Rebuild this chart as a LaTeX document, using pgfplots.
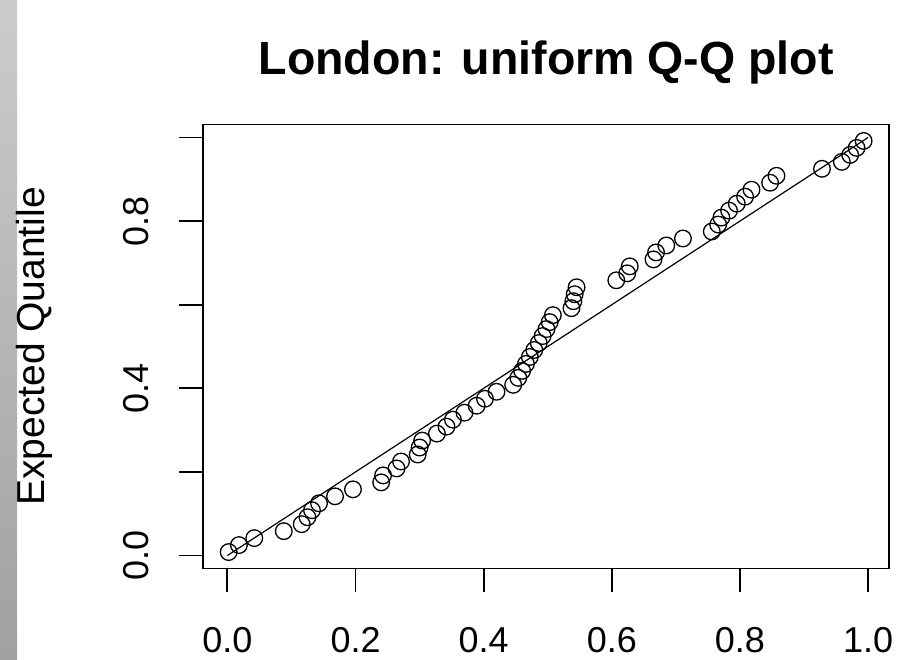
\documentclass[border=0pt]{standalone}
\usepackage{fontspec}
\setmainfont{Liberation Sans}
\usepackage{pgfplots}
\pgfplotsset{compat=1.18}
\pgfplotstableread{
x y
0.002 0.00833
0.018 0.02500
0.042 0.04167
0.088 0.05833
0.116 0.07500
0.125 0.09167
0.132 0.10833
0.143 0.12500
0.168 0.14167
0.196 0.15833
0.240 0.17500
0.243 0.19167
0.264 0.20833
0.271 0.22500
0.297 0.24167
0.300 0.25833
0.304 0.27500
0.327 0.29167
0.342 0.30833
0.352 0.32500
0.370 0.34167
0.389 0.35833
0.402 0.37500
0.420 0.39167
0.446 0.40833
0.454 0.42500
0.460 0.44167
0.466 0.45833
0.472 0.47500
0.479 0.49167
0.486 0.50833
0.492 0.52500
0.498 0.54167
0.503 0.55833
0.508 0.57500
0.537 0.59167
0.540 0.60833
0.542 0.62500
0.545 0.64167
0.607 0.65833
0.624 0.67500
0.628 0.69167
0.665 0.70833
0.669 0.72500
0.685 0.74167
0.711 0.75833
0.756 0.77500
0.766 0.79167
0.771 0.80833
0.783 0.82500
0.795 0.84167
0.808 0.85833
0.818 0.87500
0.847 0.89167
0.857 0.90833
0.928 0.92500
0.959 0.94167
0.972 0.95833
0.982 0.97500
0.993 0.99167
}\qqdata
\begin{document}
\begin{tikzpicture}[x=1pt,y=1pt]
\useasboundingbox (0,0) rectangle (909,660);
\fill[white] (0,0) rectangle (909,660);
\shade[top color=black!20, bottom color=black!37] (0,0) rectangle (17,660);
\begin{axis}[
  at={(203.3pt,91.5pt)}, anchor=south west,
  scale only axis, width=685.7pt, height=444pt,
  xmin=-0.0376, xmax=1.0326, ymin=-0.031, ymax=1.031,
  axis line style={line width=1.8pt, black},
  tick align=outside, major tick length=24pt,
  every tick/.style={line width=1.8pt, black},
  xtick={0,0.2,0.4,0.6,0.8,1},
  xticklabels={0.0,0.2,0.4,0.6,0.8,1.0},
  ytick={0,0.2,0.4,0.6,0.8,1},
  yticklabels={0.0,,0.4,,0.8,},
  xtick pos=left, ytick pos=left,
  every tick label/.append style={font=\fontsize{36}{36}\selectfont},
  xticklabel style={anchor=base, inner sep=0pt, yshift=-60.5pt},
  yticklabel style={rotate=90, anchor=base, inner sep=0pt, yshift=30.5pt},
  ylabel={Expected Quantile},
  ylabel style={at={(axis description cs:-0.2314,0.5)}, anchor=base, inner sep=0pt, font=\fontsize{39}{39}\selectfont},
  title={London: uniform Q-Q plot},
  title style={at={(axis description cs:0.5,1.1115)}, anchor=base, inner sep=0pt, yshift=-6pt, font=\bfseries\fontsize{46.5}{46.5}\selectfont},
]
\addplot[only marks, mark=o, mark size=8.3pt, mark options={line width=1.3pt, black}] table[x=x,y=y] {\qqdata};
\addplot[black, line width=1.2pt] coordinates {(0,0) (1,1)};
\end{axis}
\end{tikzpicture}
\end{document}
